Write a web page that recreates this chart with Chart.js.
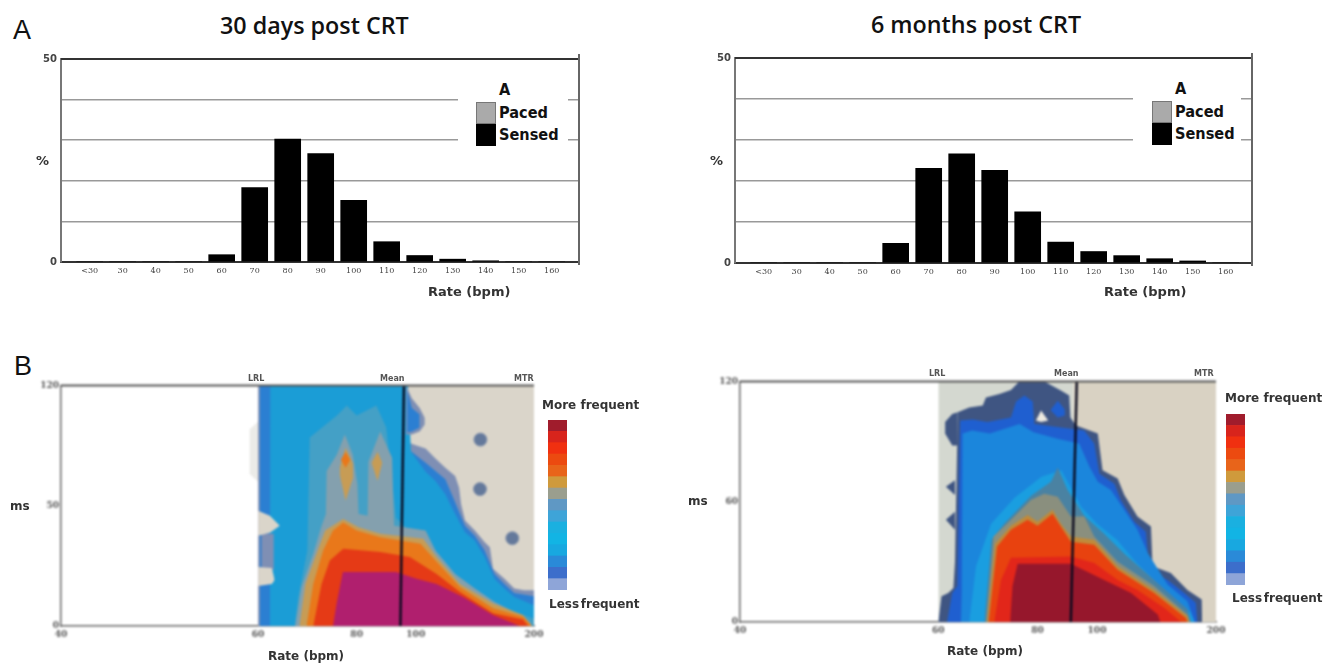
<!DOCTYPE html>
<html>
<head>
<meta charset="utf-8">
<title>Rate histograms post CRT</title>
<script src="https://cdn.jsdelivr.net/npm/chart.js@4/dist/chart.umd.min.js"></script>
<style>
  html, body { margin: 0; padding: 0; background: #fff; }
  body { position: relative; width: 1324px; height: 666px; overflow: hidden; }
  .plot { position: absolute; filter: blur(0.5px); }
  .plot.heat { filter: blur(0.8px); }
  .txt { position: absolute; white-space: nowrap; line-height: 1; transform: translateY(-50%); color: #222; }
  .title { font: 600 23.3px "Open Sans", sans-serif; color: #111; }
  .panel { font: 27px "Liberation Sans", sans-serif; color: #111; }
  .leg { font: bold 15px "DejaVu Sans", sans-serif; color: #111; transform: translateY(-50%) scaleX(.97); transform-origin: left; }
  .axis { font: bold 12px "DejaVu Sans", sans-serif; color: #333; }
  .axis.wide { font-size: 13px; }
  .heatkey { font: bold 12px "DejaVu Sans", sans-serif; color: #333; }
  .heatkey.less { word-spacing: -2.5px; }
  .marker { font: bold 8px "DejaVu Sans", sans-serif; color: #555; }
  .box { position: absolute; }
</style>
</head>
<body>
<script>
// histogram data, % of beats per rate bin
const rateBins = ['<30', '30', '40', '50', '60', '70', '80', '90', '100', '110', '120', '130', '140', '150', '160'];
const sensed30d = [0, 0, 0, 0, 1.8, 18.3, 30.3, 26.7, 15.2, 5.0, 1.6, 0.7, 0.3, 0, 0];
const sensed6m = [0, 0, 0, 0, 4.8, 23.1, 26.6, 22.6, 12.5, 5.1, 2.8, 1.8, 1.05, 0.5, 0];

// heat map axes: x runs linear in cycle length (ms), labelled in bpm
const heatRateTicks = [40, 60, 80, 100, 200];
const heatYTicks = [0, 60, 120];
const heatYLabels30d = ['0', '50', '120'];
const heatYLabels6m = ['0', '60', '120'];

// 30 days contours, outer to inner, each point is [cycle length ms, ms]
const bg30d = [[1000, 120], [300, 120]];
const edge30d = [[1000, 120], [620, 120], [617, 91.4], [600, 90.2], [575, 88.6], [550, 83.6], [525, 79], [500, 74.9], [490, 69], [485, 60.8], [475, 52.6], [450, 47.6], [425, 41.8], [412, 39.3], [404, 28.6], [375, 23.6], [350, 18.7], [325, 17.9], [300, 17.9]];
const blue30d = [[996, 120], [620, 120], [617, 88], [575, 81.5], [550, 77.4], [525, 73.2], [500, 61.7], [475, 50], [450, 45], [425, 37.7], [400, 26], [375, 21], [350, 16.5], [300, 14.9]];
const cyan30d = [[970, 0], [969, 120], [620, 120], [612, 87], [575, 77], [550, 72.4], [525, 65.8], [500, 55.9], [475, 46.8], [450, 42.6], [425, 34.4], [400, 23.6], [375, 18.7], [350, 14.5], [300, 10.4]];
const teal30d = [[907, 0], [898, 14.5], [875, 37.7], [869, 94], [800, 105], [775, 110], [750, 105], [700, 110], [675, 99], [650, 54], [625, 49], [600, 47.6], [575, 46.8], [550, 37.7], [525, 29.4], [500, 24.5], [475, 21], [450, 17], [425, 12.9], [400, 11.2], [350, 7], [300, 3.8]];
const gray30d = [[906, 0], [890, 19.5], [860, 36], [840, 49.3], [828, 55.9], [826, 77.4], [800, 85.6], [780, 95.5], [760, 85.6], [748, 70.7], [745, 55.9], [722, 55], [720, 82], [690, 97], [660, 84], [655, 50], [575, 47.6], [550, 37.7], [500, 26], [450, 18.7], [400, 12], [350, 7], [310, 2], [305, 0]];
const tan30d = [[895, 0], [880, 21], [855, 34.4], [830, 47.6], [784, 53.4], [745, 49.3], [690, 46], [581, 43.5], [547, 34.4], [488, 21], [404, 11.2], [328, 5.5], [305, 0]];
const orange30d = [[877, 0], [860, 21], [835, 37.7], [810, 47.6], [784, 51.7], [750, 47.6], [690, 44.3], [588, 41], [547, 32], [488, 19.5], [404, 8.8], [328, 4.6], [306, 0]];
const red30d = [[860, 0], [839, 21], [818, 32.7], [784, 38.5], [690, 36.9], [615, 34.4], [547, 26], [488, 17], [404, 6.3], [328, 3.3], [315, 0]];
const core30d = [[810, 0], [801, 11], [785, 27], [650, 27], [598, 23.6], [547, 21], [480, 14.5], [404, 5.5], [336, 0]];
const contours30d = [bg30d, edge30d, blue30d, cyan30d, teal30d, gray30d, tan30d, orange30d, red30d, core30d];
const colors30d = ['#dad5ca', '#7f8fb4', '#2b7fd2', '#1b9dd6', '#44a0c6', '#84a0ae', '#c79c55', '#e9781a', '#e53a16', '#b01f6e'];

// 30 days patches that sit apart from the hill: upper and lower edges
const smudge30dUp = [[1022, 98], [1000, 102]];
const smudge30dLow = [[1022, 76], [1000, 72]];
const bump30dUp = [[625, 120], [610, 113.7], [590, 108.8], [577, 103.8]];
const bump30dLow = [[625, 95.5], [610, 95.5], [590, 97], [577, 100.5]];
const bumpIn30dUp = [[622, 118], [610, 108.8], [590, 105.5]];
const bumpIn30dLow = [[622, 96.5], [610, 97], [590, 99]];
const wall30dUp = [[992, 46], [960, 46]];
const wall30dLow = [[992, 29], [960, 28]];
const spot1dUp = [[793, 79], [778, 89], [759, 81]];
const spot1dLow = [[793, 75.7], [778, 62.5], [759, 74]];
const hot1dUp = [[790, 83], [778, 87], [766, 83]];
const hot1dLow = [[790, 83], [778, 79], [766, 83]];
const spot2dUp = [[712, 81.5], [697, 87], [685, 81.5]];
const spot2dLow = [[712, 81.5], [697, 72.4], [685, 81.5]];
const notchA30dUp = [[1000, 57.5], [970, 55], [945, 50]];
const notchA30dLow = [[1000, 45], [970, 46.5], [945, 50]];
const notchB30dUp = [[1000, 29.4], [965, 29], [958, 23]];
const notchB30dLow = [[1000, 20], [965, 21], [958, 23]];
const patches30d = [[smudge30dUp, smudge30dLow], [bump30dUp, bump30dLow], [bumpIn30dUp, bumpIn30dLow], [wall30dUp, wall30dLow], [spot1dUp, spot1dLow], [hot1dUp, hot1dLow], [spot2dUp, spot2dLow], [notchA30dUp, notchA30dLow], [notchB30dUp, notchB30dLow]];
const patchColors30d = ['#ebebe8', '#7f8fb4', '#2b7fd2', '#7f8fb4', '#c79c55', '#e9781a', '#c79c55', '#dad5ca', '#dad5ca'];
const dots30d = [[436, 93], [437, 68.3], [355, 43.8]];
const mean30d = [[639, 0], [630, 120]];

// 6 months contours
const bgLeft6m = [[1000, 120], [660, 120]];
const bgRight6m = [[660, 120], [300, 120]];
const edge6m = [[1000, 0], [992, 12.9], [975, 14.5], [962, 17], [958, 30], [951, 104.6], [922, 107], [888, 108], [880, 112], [846, 113.7], [817, 115.7], [796, 120], [733, 120], [691, 115.4], [670, 113], [667, 102], [653, 98], [598, 94], [586, 75.7], [548, 71.6], [531, 63.3], [498, 52.6], [464, 47.6], [460, 27.8], [414, 24.5], [372, 16], [336, 11.2], [335, 0]];
const blue6m = [[978, 0], [965, 14.5], [952, 18], [945, 100.5], [913, 101], [876, 99.7], [817, 102], [804, 110], [783, 113], [762, 110], [758, 98.8], [666, 96.4], [632, 95.5], [607, 89], [594, 74], [556, 69], [540, 60.8], [506, 50], [477, 45], [468, 26], [422, 21], [380, 14.5], [351, 9.6], [347, 0]];
const mid6m = [[943, 0], [941, 14.5], [939, 94], [915, 95.5], [870, 94], [795, 98.8], [760, 94.7], [700, 91.4], [645, 89], [619, 77.4], [598, 70], [565, 65.8], [531, 55.9], [498, 46], [472, 34.4], [422, 18.7], [372, 10.4], [353, 0]];
const cyan6m = [[922, 0], [905, 27.8], [867, 49], [808, 62], [740, 72.4], [690, 75.7], [640, 57.5], [600, 49], [550, 41], [500, 29.4], [422, 14.5], [365, 4.6], [355, 0]];
const teal6m = [[884, 0], [866, 41], [834, 49], [766, 63], [716, 70], [699, 77], [674, 65.8], [632, 53], [582, 44], [531, 34], [456, 21], [372, 6.3], [363, 0]];
const gray6m = [[880, 0], [861, 42.6], [817, 51], [766, 61], [733, 64], [699, 62.5], [666, 52.6], [632, 52.6], [607, 42.6], [548, 30], [456, 17.9], [372, 3.8], [365, 0]];
const tan6m = [[877, 0], [857, 39], [817, 48], [775, 53.4], [750, 50], [712, 56], [691, 49], [666, 42.6], [607, 41], [548, 27.8], [456, 16], [372, 3], [368, 0]];
const orange6m = [[873, 0], [852, 37.7], [817, 46], [775, 51], [750, 48], [712, 54], [691, 47.6], [666, 40], [607, 38.5], [548, 26], [456, 14.5], [376, 2], [372, 0]];
const red6m = [[859, 0], [842, 21], [817, 32], [666, 32.7], [607, 29.4], [548, 21], [498, 16], [430, 7], [388, 0]];
const core6m = [[819, 0], [813, 18], [800, 29], [666, 29], [582, 21], [514, 14.5], [447, 3.8], [440, 0]];
const contours6m = [bgLeft6m, bgRight6m, edge6m, blue6m, mid6m, cyan6m, teal6m, gray6m, tan6m, orange6m, red6m, core6m];
const colors6m = ['#d4d8d0', '#d9d2c3', '#3f5582', '#1f5fd0', '#1b86dc', '#1a9ee0', '#4a82a2', '#8a8f7e', '#c08a3a', '#e8420f', '#e2261a', '#96172c'];

const lobe6mUp = [[983, 99.7], [965, 103.8], [951, 104.6]];
const lobe6mLow = [[983, 94], [965, 88], [951, 88]];
const tipA6mUp = [[981, 67.4], [958, 70.7]];
const tipA6mLow = [[981, 67.4], [958, 63.3]];
const tipB6mUp = [[981, 51], [958, 55]];
const tipB6mLow = [[981, 51], [958, 46]];
const hole6mUp = [[716, 106], [699, 110.4], [681, 106]];
const hole6mLow = [[716, 105.5], [699, 102], [681, 103]];
const gap6mUp = [[754, 100.5], [741, 105.5], [723, 100.5]];
const gap6mLow = [[754, 100.5], [741, 99.7], [723, 100.5]];
const patches6m = [[lobe6mUp, lobe6mLow], [tipA6mUp, tipA6mLow], [tipB6mUp, tipB6mLow], [hole6mUp, hole6mLow], [gap6mUp, gap6mLow]];
const patchColors6m = ['#3f5582', '#3f5582', '#3f5582', '#1f5fd0', '#ece9e0'];
const mean6m = [[666, 0], [651, 120]];

// colour key, bottom to top
const keySteps = ['#8ea5d8', '#3c6ecb', '#2a8ad8', '#18a8e0', '#12b4e4', '#1ab0e0', '#3ea4d8', '#5f98c4', '#9a9e8e', '#cf9a3c', '#e8641a', '#ec4a10', '#f03010', '#d8241c', '#a01c2c'];

function addText(text, cls, x, y) {
  const el = document.createElement('div');
  el.className = 'txt ' + cls;
  el.textContent = text;
  el.style.left = x + 'px';
  el.style.top = y + 'px';
  document.body.appendChild(el);
}

function addBox(x, y, w, h, color, border) {
  const el = document.createElement('div');
  el.className = 'box';
  el.style.cssText = `left:${x}px;top:${y}px;width:${w}px;height:${h}px;background:${color};` + (border ? `outline:1px solid ${border};outline-offset:-1px;` : '');
  document.body.appendChild(el);
}

// canvas placed so that the plot area lands on the given box
function addCanvas(area, pad, cls) {
  const c = document.createElement('canvas');
  c.className = 'plot' + (cls ? ' ' + cls : '');
  const w = area.right - area.left + pad.left + pad.right;
  const h = area.bottom - area.top + pad.top + pad.bottom;
  c.width = w;
  c.height = h;
  c.style.cssText = `left:${area.left - pad.left}px;top:${area.top - pad.top}px;width:${w}px;height:${h}px;`;
  document.body.appendChild(c);
  return c;
}

// top line and optional right line of the frame
const framePlugin = {
  id: 'frame',
  afterDraw(chart, args, opts) {
    const { ctx, chartArea: a } = chart;
    ctx.save();
    ctx.strokeStyle = opts.topColor;
    ctx.lineWidth = 2;
    ctx.beginPath();
    ctx.moveTo(a.left, a.top);
    ctx.lineTo(a.right, a.top);
    ctx.stroke();
    if (opts.rightColor) {
      ctx.strokeStyle = opts.rightColor;
      ctx.beginPath();
      ctx.moveTo(a.right, a.top - 5);
      ctx.lineTo(a.right, a.bottom + 3);
      ctx.stroke();
    }
    ctx.restore();
  }
};

function drawHistogram(area, values) {
  const pad = { left: 30, right: 20, top: 10, bottom: 26 };
  const canvas = addCanvas(area, pad);
  const binPx = 33;
  const firstBin = 28.7 / binPx;
  new Chart(canvas, {
    type: 'bar',
    data: {
      datasets: [{
        data: values.map((v, i) => ({ x: i, y: v })),
        backgroundColor: '#000',
        barThickness: 26
      }]
    },
    plugins: [framePlugin],
    options: {
      animation: false,
      responsive: false,
      layout: { padding: { right: pad.right, top: pad.top } },
      plugins: { legend: { display: false }, tooltip: { enabled: false }, frame: { topColor: '#333', rightColor: '#666' } },
      scales: {
        x: {
          type: 'linear',
          offset: false,
          min: -firstBin,
          max: (area.right - area.left) / binPx - firstBin,
          grid: { display: false, offset: false, drawTicks: false },
          border: { color: '#333', width: 2 },
          afterBuildTicks: s => { s.ticks = rateBins.map((b, i) => ({ value: i })); },
          afterFit: s => { s.height = pad.bottom; },
          ticks: {
            autoSkip: false,
            maxRotation: 0,
            padding: 4,
            color: '#444',
            font: { family: 'DejaVu Serif', size: 8 },
            callback: v => rateBins[v]
          }
        },
        y: {
          min: 0,
          max: 50,
          border: { color: '#777', width: 2 },
          grid: { color: '#999', lineWidth: 1.5, drawTicks: false },
          afterBuildTicks: s => { s.ticks = [0, 10, 20, 30, 40, 50].map(v => ({ value: v })); },
          afterFit: s => { s.width = pad.left; },
          ticks: {
            padding: 4,
            color: '#444',
            font: { family: 'DejaVu Sans', size: 10, weight: 'bold' },
            callback: v => (v === 0 || v === 50) ? v : ''
          }
        }
      }
    }
  });
}

function drawHeat(area, contours, colors, patches, patchColors, dots, mean, yLabels) {
  const pad = { left: 30, right: 20, top: 6, bottom: 24 };
  const canvas = addCanvas(area, pad, 'heat');
  const sets = [];
  contours.forEach((pts, i) => {
    sets.push({ data: pts, backgroundColor: colors[i], borderWidth: 0, pointRadius: 0, fill: 'origin' });
  });
  patches.forEach((p, i) => {
    sets.push({ data: p[0], backgroundColor: patchColors[i], borderWidth: 0, pointRadius: 0, fill: '+1' });
    sets.push({ data: p[1], borderWidth: 0, pointRadius: 0, fill: false });
  });
  if (dots.length) {
    sets.push({ data: dots, showLine: false, pointRadius: 6.5, pointStyle: 'circle', pointBackgroundColor: '#64799b', pointBorderColor: '#8795ad', pointBorderWidth: 1, fill: false });
  }
  sets.push({ data: mean, borderColor: '#0a0a1e', borderWidth: 2.4, pointRadius: 0, fill: false });
  // first dataset is painted last by default, so flip that
  sets.forEach((s, i) => { s.order = sets.length - i; });

  new Chart(canvas, {
    type: 'line',
    data: { datasets: sets },
    plugins: [framePlugin],
    options: {
      animation: false,
      responsive: false,
      layout: { padding: { right: pad.right, top: pad.top } },
      elements: { line: { tension: 0 } },
      plugins: { legend: { display: false }, tooltip: { enabled: false }, frame: { topColor: '#555' } },
      scales: {
        x: {
          type: 'linear',
          reverse: true,
          min: 300,
          max: 1500,
          grid: { display: false, drawTicks: false },
          border: { color: '#666', width: 1.5 },
          afterBuildTicks: s => { s.ticks = heatRateTicks.map(r => ({ value: 60000 / r })); },
          afterFit: s => { s.height = pad.bottom; },
          ticks: {
            autoSkip: false,
            maxRotation: 0,
            padding: 3,
            color: '#555',
            font: { family: 'DejaVu Serif', size: 9, weight: 'bold' },
            callback: v => Math.round(60000 / v)
          }
        },
        y: {
          min: 0,
          max: 120,
          grid: { display: false, drawTicks: false },
          border: { color: '#666', width: 1.5 },
          afterBuildTicks: s => { s.ticks = heatYTicks.map(v => ({ value: v })); },
          afterFit: s => { s.width = pad.left; },
          ticks: {
            padding: 2,
            color: '#555',
            font: { family: 'DejaVu Serif', size: 9, weight: 'bold' },
            callback: v => yLabels[heatYTicks.indexOf(v)]
          }
        }
      }
    }
  });
}

function drawKey(area) {
  const canvas = addCanvas(area, { left: 0, right: 0, top: 0, bottom: 0 });
  new Chart(canvas, {
    type: 'bar',
    data: {
      labels: ['key'],
      datasets: keySteps.map(c => ({ data: [1], backgroundColor: c, categoryPercentage: 1, barPercentage: 1 }))
    },
    options: {
      animation: false,
      responsive: false,
      plugins: { legend: { display: false }, tooltip: { enabled: false } },
      scales: {
        x: { display: false, stacked: true },
        y: { display: false, stacked: true, min: 0, max: keySteps.length }
      }
    }
  });
}

function drawLegend(gapX, gapW, top, swatchX, textX) {
  addBox(gapX, top + 3, gapW, 90, '#fff');
  addBox(swatchX, top + 43, 20, 22, '#aaa', '#777');
  addBox(swatchX, top + 65, 20, 22, '#000');
  addText('A', 'leg', textX, top + 31);
  addText('Paced', 'leg', textX, top + 54);
  addText('Sensed', 'leg', textX, top + 76);
}

addText('A', 'panel', 13, 30);
addText('B', 'panel', 14, 366);
addText('30 days post CRT', 'title', 220, 25);
addText('6 months post CRT', 'title', 871, 24);

drawHistogram({ left: 61, right: 579, top: 59, bottom: 262 }, sensed30d);
drawHistogram({ left: 735, right: 1252, top: 58, bottom: 263 }, sensed6m);
drawLegend(458, 110, 59, 476, 499);
drawLegend(1133, 108, 58, 1152, 1175);
addText('%', 'axis wide', 36, 160);
addText('%', 'axis wide', 710, 160);
addText('Rate (bpm)', 'axis wide', 428, 291);
addText('Rate (bpm)', 'axis wide', 1104, 291);

drawHeat({ left: 61, right: 534, top: 384, bottom: 626 }, contours30d, colors30d, patches30d, patchColors30d, dots30d, mean30d, heatYLabels30d);
drawHeat({ left: 740, right: 1216, top: 380, bottom: 622 }, contours6m, colors6m, patches6m, patchColors6m, [], mean6m, heatYLabels6m);
drawKey({ left: 548, right: 567, top: 420, bottom: 590 });
drawKey({ left: 1226, right: 1245, top: 414, bottom: 585 });

addText('ms', 'axis', 10, 506);
addText('ms', 'axis', 688, 501);
addText('Rate (bpm)', 'axis', 268, 656);
addText('Rate (bpm)', 'axis', 947, 651);
addText('LRL', 'marker', 248, 378);
addText('Mean', 'marker', 380, 378);
addText('MTR', 'marker', 514, 378);
addText('LRL', 'marker', 929, 373);
addText('Mean', 'marker', 1054, 373);
addText('MTR', 'marker', 1194, 373);
addText('More frequent', 'heatkey', 542, 405);
addText('Less frequent', 'heatkey less', 549, 604);
addText('More frequent', 'heatkey', 1225, 398);
addText('Less frequent', 'heatkey less', 1232, 598);
</script>
</body>
</html>
